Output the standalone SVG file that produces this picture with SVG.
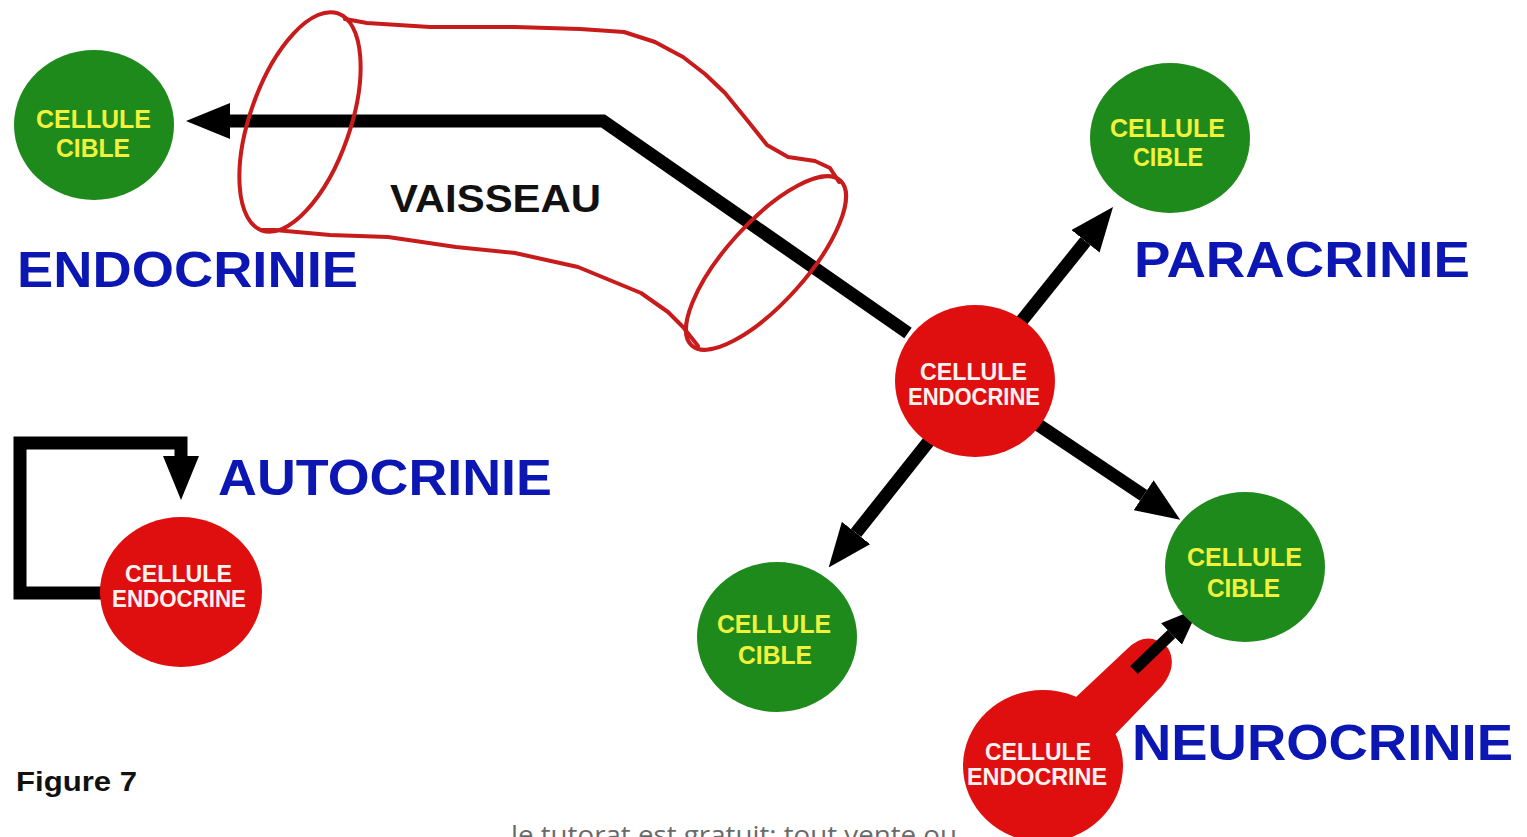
<svg xmlns="http://www.w3.org/2000/svg" width="1527" height="837" viewBox="0 0 1527 837">
<style>
.cible{fill:#1e8a1c}
.endo{fill:#e00f0f}
.ct{font-family:"Liberation Sans",Arial,sans-serif;font-weight:bold;font-size:25px;fill:#f2f23c}
.et{font-family:"Liberation Sans",Arial,sans-serif;font-weight:bold;font-size:23px;fill:#fff2f0}
.lab{font-family:"Liberation Sans",Arial,sans-serif;font-weight:bold;font-size:50px;fill:#0c16b2}
.blk{font-family:"Liberation Sans",Arial,sans-serif;font-weight:bold;fill:#111}
.con{fill:none;stroke:#000;stroke-width:13;stroke-linejoin:miter}
.ves{fill:none;stroke:#c81b1b;stroke-width:4;stroke-linejoin:round;stroke-linecap:round}
</style>
<defs>
<marker id="ah" markerUnits="userSpaceOnUse" viewBox="0 -18 44 36" refX="0" refY="0" markerWidth="44" markerHeight="36" orient="auto">
<path d="M0,-18 L44,0 L0,18 Z" fill="#000"/>
</marker>
<marker id="ahs" markerUnits="userSpaceOnUse" viewBox="0 -15 38 30" refX="0" refY="0" markerWidth="38" markerHeight="30" orient="auto">
<path d="M0,-15 L38,0 L0,15 Z" fill="#000"/>
</marker>
</defs>
<rect width="1527" height="837" fill="#fff"/>

<g id="neuro-endocrine">
<path class="endo" d="M1058,714 L1126,650 Q1147,628 1168,648 Q1178,666 1162,686 L1102,748 Z"/>
<ellipse class="endo" cx="1043" cy="766" rx="80" ry="76"/>
<text class="et" x="985" y="760" textLength="106" lengthAdjust="spacingAndGlyphs">CELLULE</text>
<text class="et" x="967" y="785" textLength="140" lengthAdjust="spacingAndGlyphs">ENDOCRINE</text>
</g>

<g id="connectors">
<path class="con" d="M908,333 L603,121 L230,121" marker-end="url(#ah)"/>
<path class="con" d="M1020,323 L1085.5,241.3" marker-end="url(#ah)"/>
<path class="con" d="M929,441 L856,533" marker-end="url(#ah)"/>
<path class="con" d="M1037,424 L1143.6,495.3" marker-end="url(#ah)"/>
<path class="con" d="M105,593 H20 V443 H181 V456" marker-end="url(#ah)"/>
<path class="con" style="stroke-width:11" d="M1134,670 L1171.5,634" marker-end="url(#ahs)"/>
</g>

<g id="vaisseau">
<ellipse class="ves" cx="300" cy="122" rx="115" ry="50" transform="rotate(-70.7 300 122)"/>
<ellipse class="ves" cx="766" cy="263" rx="111" ry="40" transform="rotate(-48 766 263)"/>
<path class="ves" d="M345,19 L367,23 L430,27 L515,27 L580,29 L624,32 L655,42 L683,57 L705,74 L725,93 L747,120 L767,145 L788,157 L815,161 L830,168 L839,182"/>
<path class="ves" d="M262,230 L275,230 L330,235 L388,237 L456,247 L515,253 L578,267 L641,293 L668,312 L683,327 L698,346"/>
<text class="blk" x="390" y="212" font-size="38" textLength="211" lengthAdjust="spacingAndGlyphs">VAISSEAU</text>
</g>

<g id="cible-endocrinie">
<ellipse class="cible" cx="94" cy="125" rx="80" ry="75"/>
<text class="ct" x="36" y="128" textLength="115" lengthAdjust="spacingAndGlyphs">CELLULE</text>
<text class="ct" x="56" y="157" textLength="74" lengthAdjust="spacingAndGlyphs">CIBLE</text>
</g>

<g id="cible-paracrinie">
<ellipse class="cible" cx="1170" cy="138" rx="80" ry="75"/>
<text class="ct" x="1110" y="137" textLength="115" lengthAdjust="spacingAndGlyphs">CELLULE</text>
<text class="ct" x="1133" y="166" textLength="70" lengthAdjust="spacingAndGlyphs">CIBLE</text>
</g>

<g id="cellule-endocrine">
<ellipse class="endo" cx="975" cy="381" rx="80" ry="76"/>
<text class="et" x="920" y="380" textLength="107" lengthAdjust="spacingAndGlyphs">CELLULE</text>
<text class="et" x="908" y="405" textLength="132" lengthAdjust="spacingAndGlyphs">ENDOCRINE</text>
</g>

<g id="cible-bas">
<ellipse class="cible" cx="777" cy="637" rx="80" ry="75"/>
<text class="ct" x="717" y="633" textLength="114" lengthAdjust="spacingAndGlyphs">CELLULE</text>
<text class="ct" x="738" y="664" textLength="74" lengthAdjust="spacingAndGlyphs">CIBLE</text>
</g>

<g id="cible-droite">
<ellipse class="cible" cx="1245" cy="567" rx="80" ry="75"/>
<text class="ct" x="1187" y="566" textLength="115" lengthAdjust="spacingAndGlyphs">CELLULE</text>
<text class="ct" x="1207" y="597" textLength="73" lengthAdjust="spacingAndGlyphs">CIBLE</text>
</g>

<g id="auto-endocrine">
<ellipse class="endo" cx="181" cy="592" rx="81" ry="75"/>
<text class="et" x="125" y="582" textLength="107" lengthAdjust="spacingAndGlyphs">CELLULE</text>
<text class="et" x="112" y="607" textLength="134" lengthAdjust="spacingAndGlyphs">ENDOCRINE</text>
</g>

<g id="labels">
<text class="lab" x="17" y="287" textLength="341" lengthAdjust="spacingAndGlyphs">ENDOCRINIE</text>
<text class="lab" x="1134" y="277" textLength="336" lengthAdjust="spacingAndGlyphs">PARACRINIE</text>
<text class="lab" x="218" y="495" textLength="334" lengthAdjust="spacingAndGlyphs">AUTOCRINIE</text>
<text class="lab" x="1132" y="760" textLength="381" lengthAdjust="spacingAndGlyphs">NEUROCRINIE</text>
<text class="blk" x="16" y="791" font-size="27" textLength="121" lengthAdjust="spacingAndGlyphs">Figure 7</text>
<text x="511" y="844" font-family="'Open Sans','Liberation Sans',sans-serif" font-size="25" fill="#6a6a6a" textLength="446" lengthAdjust="spacingAndGlyphs">le tutorat est gratuit; tout vente ou</text>
</g>
</svg>
